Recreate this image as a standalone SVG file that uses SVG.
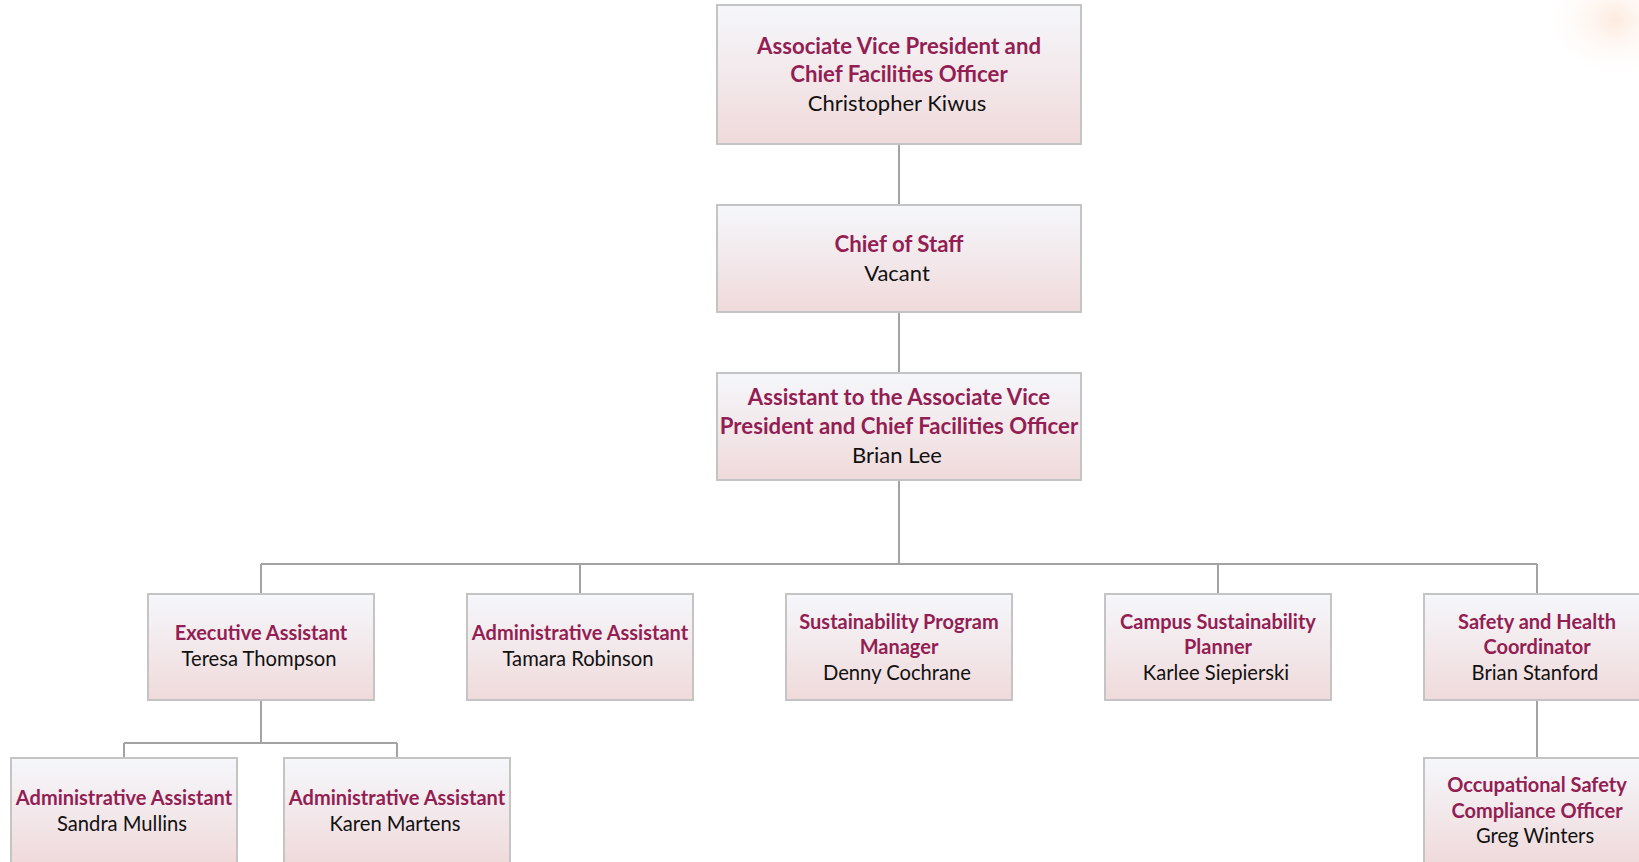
<svg xmlns="http://www.w3.org/2000/svg" width="1639" height="862" viewBox="0 0 1639 862">
<defs>
<linearGradient id="boxg" x1="0" y1="0" x2="0" y2="1">
<stop offset="0" stop-color="#F5F7FB"/>
<stop offset="1" stop-color="#F0DADB"/>
</linearGradient>
<radialGradient id="glow" cx="0.5" cy="0.5" r="0.5">
<stop offset="0" stop-color="#FCE6D6" stop-opacity="0.8"/>
<stop offset="1" stop-color="#FFFFFF" stop-opacity="0"/>
</radialGradient>
<style>
.box{fill:url(#boxg);stroke:#C4C4C4;stroke-width:2}
.con{fill:none;stroke:#A3A3A3;stroke-width:2}
text{font-family:Lato,"Liberation Sans",sans-serif;text-anchor:middle}
.t1{font-weight:bold;font-size:22.2px;fill:#931E53}
.n1{font-size:22px;fill:#111111}
.t2{font-weight:bold;font-size:20px;fill:#931E53}
.n2{font-size:20.2px;fill:#111111}
</style>
</defs>
<rect width="1639" height="862" fill="#FFFFFF"/>
<ellipse cx="1615" cy="20" rx="75" ry="60" fill="url(#glow)"/>
<g id="connectors">
<path class="con" d="M899 144V205M899 312V373M899 480V564M261 564H1537M261 564V594M580 564V594M1218 564V594M1537 564V594M261 700V743M124 743H397M124 743V758M397 743V758M1537 700V758"/>
</g>
<g id="n-avp">
<rect class="box" x="717" y="5" width="364" height="139"/>
<text class="t1" x="899" y="54">Associate Vice President and</text>
<text class="t1" x="899" y="82">Chief Facilities Officer</text>
<text class="n1" x="897" y="111">Christopher Kiwus</text>
</g>
<g id="n-cos">
<rect class="box" x="717" y="205" width="364" height="107"/>
<text class="t1" x="899" y="252">Chief of Staff</text>
<text class="n1" x="897" y="281">Vacant</text>
</g>
<g id="n-asst">
<rect class="box" x="717" y="373" width="364" height="107"/>
<text class="t1" x="899" y="405">Assistant to the Associate Vice</text>
<text class="t1" x="899" y="434">President and Chief Facilities Officer</text>
<text class="n1" x="897" y="463">Brian Lee</text>
</g>
<g id="n-exec">
<rect class="box" x="148" y="594" width="226" height="106"/>
<text class="t2" x="261" y="640">Executive Assistant</text>
<text class="n2" x="259" y="666">Teresa Thompson</text>
</g>
<g id="n-admin1">
<rect class="box" x="467" y="594" width="226" height="106"/>
<text class="t2" x="580" y="640">Administrative Assistant</text>
<text class="n2" x="578" y="666">Tamara Robinson</text>
</g>
<g id="n-spm">
<rect class="box" x="786" y="594" width="226" height="106"/>
<text class="t2" x="899" y="629">Sustainability Program</text>
<text class="t2" x="899" y="654">Manager</text>
<text class="n2" x="897" y="680">Denny Cochrane</text>
</g>
<g id="n-csp">
<rect class="box" x="1105" y="594" width="226" height="106"/>
<text class="t2" x="1218" y="629">Campus Sustainability</text>
<text class="t2" x="1218" y="654">Planner</text>
<text class="n2" x="1216" y="680">Karlee Siepierski</text>
</g>
<g id="n-shc">
<rect class="box" x="1424" y="594" width="226" height="106"/>
<text class="t2" x="1537" y="629">Safety and Health</text>
<text class="t2" x="1537" y="654">Coordinator</text>
<text class="n2" x="1535" y="680">Brian Stanford</text>
</g>
<g id="n-admin2">
<rect class="box" x="11" y="758" width="226" height="106"/>
<text class="t2" x="124" y="805">Administrative Assistant</text>
<text class="n2" x="122" y="831">Sandra Mullins</text>
</g>
<g id="n-admin3">
<rect class="box" x="284" y="758" width="226" height="106"/>
<text class="t2" x="397" y="805">Administrative Assistant</text>
<text class="n2" x="395" y="831">Karen Martens</text>
</g>
<g id="n-oscp">
<rect class="box" x="1424" y="758" width="226" height="106"/>
<text class="t2" x="1537" y="792">Occupational Safety</text>
<text class="t2" x="1537" y="818">Compliance Officer</text>
<text class="n2" x="1535" y="843">Greg Winters</text>
</g>
</svg>
